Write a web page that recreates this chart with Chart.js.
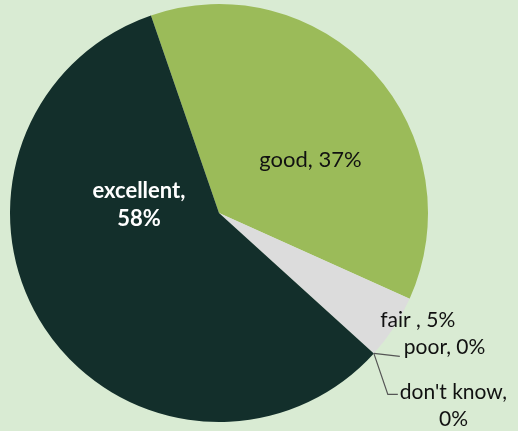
<!DOCTYPE html>
<html>
<head>
<meta charset="utf-8">
<script src="https://cdn.jsdelivr.net/npm/chart.js@4/dist/chart.umd.min.js"></script>
<style>
  html, body { margin: 0; padding: 0; background: #d9ebd3; }
  #wrap { width: 518px; height: 431px; position: relative; }
</style>
</head>
<body>
<div id="wrap"><canvas id="c" width="518" height="431"></canvas></div>
<script>
const categories = ["good", "fair ", "poor", "don't know", "excellent"];
const values = [37, 5, 0, 0, 58];
const colors = ["#9bbb59", "#dcdcdc", "#dcdcdc", "#dcdcdc", "#132f2b"];
const labelText = [["good, 37%"], ["fair , 5%"], ["poor, 0%"], ["don't know,", "0%"], ["excellent,", "58%"]];

const FONT = "Lato, 'Open Sans', sans-serif";

// label placement: inside labels in polar form (deg from top clockwise, fraction of radius)
const labelLayout = [
  { type: "polar", angle: 60, frac: 0.505, color: "#111", weight: "normal", size: 22 },
  { type: "polar", angle: 118.3, frac: 1.08, color: "#111", weight: "normal", size: 21 },
  { type: "leader", color: "#111", size: 21 },
  { type: "leader2", color: "#111", size: 21 },
  { type: "polar", angle: 275.7, frac: 0.385, color: "#ffffff", weight: "bold", size: 22 }
];

const labelPlugin = {
  id: "pieLabels",
  afterDatasetsDraw(chart) {
    const ctx = chart.ctx;
    const meta = chart.getDatasetMeta(0);
    const first = meta.data[0];
    const cx = first.x, cy = first.y, R = first.outerRadius;
    // anchor: outer edge point at the end of the "fair" slice
    const fairArc = meta.data[1];
    const ax = cx + Math.cos(fairArc.endAngle) * R;
    const ay = cy + Math.sin(fairArc.endAngle) * R;
    ctx.save();
    labelLayout.forEach((L, i) => {
      const lines = labelText[i];
      ctx.fillStyle = L.color;
      ctx.font = (L.weight || "normal") + " " + L.size + "px " + FONT;
      ctx.textBaseline = "middle";
      if (L.type === "polar") {
        const a = (L.angle - 90) * Math.PI / 180;
        const x = cx + Math.cos(a) * R * L.frac;
        const y = cy + Math.sin(a) * R * L.frac;
        ctx.textAlign = "center";
        const lh = 28;
        lines.forEach((t, k) => {
          ctx.fillText(t, x, y + (k - (lines.length - 1) / 2) * lh);
        });
      } else if (L.type === "leader") {
        ctx.strokeStyle = "#555";
        ctx.lineWidth = 1.2;
        ctx.beginPath();
        ctx.moveTo(ax, ay);
        ctx.lineTo(ax + 26, ay + 3);
        ctx.stroke();
        ctx.textAlign = "left";
        ctx.fillText(lines[0], ax + 30, ay - 6);
      } else if (L.type === "leader2") {
        ctx.strokeStyle = "#555";
        ctx.lineWidth = 1.2;
        ctx.beginPath();
        ctx.moveTo(ax, ay);
        ctx.lineTo(ax + 14, ay + 41);
        ctx.lineTo(ax + 24, ay + 41);
        ctx.stroke();
        ctx.textAlign = "left";
        const tx = ax + 26;
        ctx.fillText(lines[0], tx, ay + 39);
        const w = ctx.measureText(lines[0]).width;
        ctx.textAlign = "center";
        ctx.fillText(lines[1], tx + w / 2, ay + 66);
      }
    });
    ctx.restore();
  }
};

new Chart(document.getElementById("c"), {
  type: "pie",
  data: {
    labels: categories,
    datasets: [{
      data: values,
      backgroundColor: colors,
      borderWidth: 0,
      hoverOffset: 0
    }]
  },
  options: {
    responsive: false,
    animation: false,
    rotation: -19,
    layout: { padding: { left: 10, top: 4, right: 90, bottom: 9 } },
    plugins: {
      legend: { display: false },
      tooltip: { enabled: false }
    }
  },
  plugins: [labelPlugin]
});
</script>
</body>
</html>
